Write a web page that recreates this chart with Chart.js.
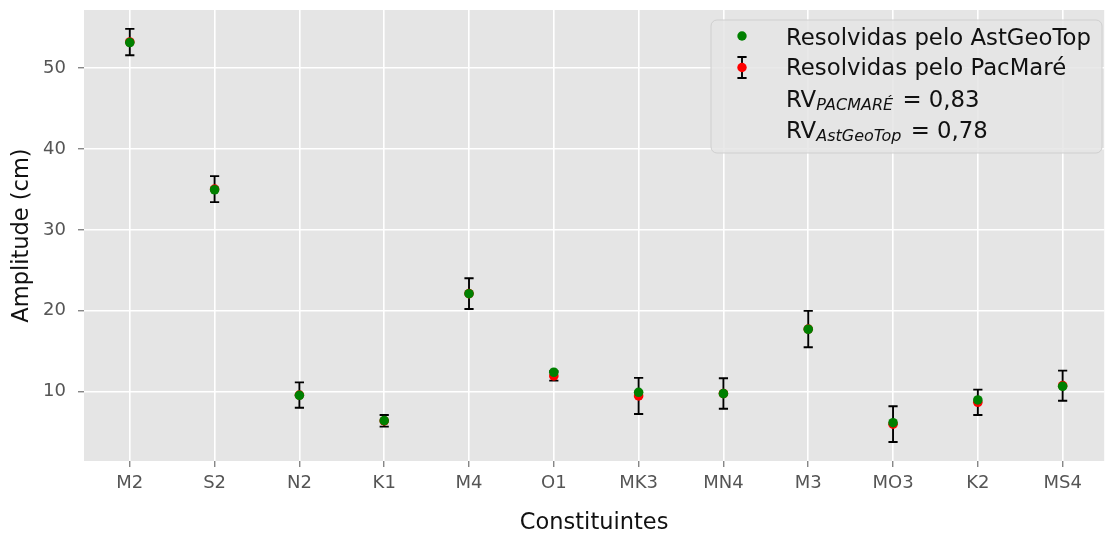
<!DOCTYPE html>
<html>
<head>
<meta charset="utf-8">
<script src="https://cdn.jsdelivr.net/npm/chart.js@4.4.1/dist/chart.umd.min.js"></script>
<style>
  html, body { margin: 0; padding: 0; background: #fff; }
  #wrap { width: 1109px; height: 534px; position: relative; }
</style>
</head>
<body>
<div id="wrap"><canvas id="chart"></canvas></div>
<script>
// constituintes de maré e amplitudes (cm)
const constituintes = ['M2', 'S2', 'N2', 'K1', 'M4', 'O1', 'MK3', 'MN4', 'M3', 'MO3', 'K2', 'MS4'];
const astGeoTop = [53.17, 34.96, 9.53, 6.39, 22.10, 12.38, 9.90, 9.73, 17.70, 6.14, 8.95, 10.64];
const pacMare = [53.24, 35.04, 9.56, 6.37, 22.11, 11.92, 9.45, 9.75, 17.72, 5.96, 8.66, 10.72];
const pacMareErr = [1.63, 1.61, 1.57, 0.72, 1.90, 0.58, 2.23, 1.88, 2.25, 2.21, 1.57, 1.86];
const yTicks = [10, 20, 30, 40, 50];

const legendLabels = ['Resolvidas pelo AstGeoTop', 'Resolvidas pelo PacMaré'];
const rvLabels = [
    { sub: 'PACMARÉ', val: '0,83' },
    { sub: 'AstGeoTop', val: '0,78' }
];

const FONT = "'DejaVu Sans', Verdana, sans-serif";

// fundo cinza da área do gráfico (estilo ggplot)
const bgPlugin = {
    id: 'bg',
    beforeDraw(chart) {
        const { ctx, chartArea: a } = chart;
        ctx.save();
        ctx.fillStyle = '#e5e5e5';
        ctx.fillRect(a.left, a.top, a.right - a.left, a.bottom - a.top);
        ctx.restore();
    }
};

function drawErrBar(ctx, x, yTop, yBot, cap) {
    ctx.beginPath();
    ctx.moveTo(x, yTop); ctx.lineTo(x, yBot);
    ctx.moveTo(x - cap, yTop); ctx.lineTo(x + cap, yTop);
    ctx.moveTo(x - cap, yBot); ctx.lineTo(x + cap, yBot);
    ctx.stroke();
}

// barras de erro do PacMaré
const errorBars = {
    id: 'errorBars',
    beforeDatasetsDraw(chart) {
        const { ctx, scales: { x, y } } = chart;
        ctx.save();
        ctx.strokeStyle = '#000';
        ctx.lineWidth = 1.9;
        pacMare.forEach((v, i) => {
            const px = x.getPixelForValue(i);
            drawErrBar(ctx, px, y.getPixelForValue(v + pacMareErr[i]), y.getPixelForValue(v - pacMareErr[i]), 4.6);
        });
        ctx.restore();
    }
};

// legenda desenhada à mão (subscritos em itálico)
const customLegend = {
    id: 'customLegend',
    afterDraw(chart) {
        const ctx = chart.ctx;
        const bx = 711, by = 20, bw = 391, bh = 133, r = 6;
        ctx.save();
        ctx.beginPath();
        ctx.roundRect(bx, by, bw, bh, r);
        ctx.fillStyle = 'rgba(229,229,229,0.85)';
        ctx.fill();
        ctx.strokeStyle = '#cfcfcf';
        ctx.lineWidth = 1;
        ctx.stroke();

        const mx = 742, tx = 786;
        // marcador verde
        ctx.fillStyle = 'green';
        ctx.beginPath(); ctx.arc(mx, 36, 4.7, 0, Math.PI * 2); ctx.fill();
        // barra de erro + ponto vermelho
        ctx.strokeStyle = '#000';
        ctx.lineWidth = 1.9;
        drawErrBar(ctx, mx, 57, 78, 4.6);
        ctx.fillStyle = 'red';
        ctx.beginPath(); ctx.arc(mx, 67.5, 4.7, 0, Math.PI * 2); ctx.fill();

        ctx.fillStyle = '#111';
        ctx.textBaseline = 'alphabetic';
        ctx.textAlign = 'left';
        ctx.font = '22.8px ' + FONT;
        ctx.fillText(legendLabels[0], tx, 44.5);
        ctx.fillText(legendLabels[1], tx, 75);

        const bases = [106.5, 137.5];
        rvLabels.forEach((item, k) => {
            let xx = tx;
            ctx.font = '22.8px ' + FONT;
            ctx.fillText('RV', xx, bases[k]);
            xx += ctx.measureText('RV').width;
            ctx.font = 'italic 16px ' + FONT;
            ctx.fillText(item.sub, xx, bases[k] + 3.5);
            xx += ctx.measureText(item.sub).width;
            ctx.font = '22.8px ' + FONT;
            ctx.fillText(' = ' + item.val, xx + 2, bases[k]);
        });
        ctx.restore();
    }
};

const ctx = document.getElementById('chart').getContext('2d');

new Chart(ctx, {
    type: 'scatter',
    data: {
        datasets: [
            {
                label: legendLabels[0],
                data: astGeoTop.map((v, i) => ({ x: i, y: v })),
                backgroundColor: 'green',
                borderColor: 'green',
                borderWidth: 0,
                pointRadius: 4.8
            },
            {
                label: legendLabels[1],
                data: pacMare.map((v, i) => ({ x: i, y: v })),
                backgroundColor: 'red',
                borderColor: 'red',
                borderWidth: 0,
                pointRadius: 4.8
            }
        ]
    },
    options: {
        responsive: true,
        maintainAspectRatio: false,
        animation: false,
        layout: { padding: { top: 10, left: 0, right: 0, bottom: 0 } },
        plugins: {
            legend: { display: false },
            tooltip: { enabled: false }
        },
        scales: {
            x: {
                type: 'linear',
                min: -0.54,
                max: 11.49,
                afterBuildTicks: s => { s.ticks = constituintes.map((_, i) => ({ value: i })); },
                afterFit: s => { s.height = 73; s.paddingLeft = 0; s.paddingRight = 0; },
                ticks: {
                    callback: v => constituintes[v] ?? '',
                    color: '#555',
                    font: { family: FONT, size: 18 },
                    padding: 6,
                    maxRotation: 0,
                    autoSkip: false
                },
                grid: { color: '#fff', lineWidth: 1.6, tickColor: '#555', tickLength: 6, tickWidth: 1 },
                border: { display: false },
                title: {
                    display: true,
                    text: 'Constituintes',
                    color: '#111',
                    font: { family: FONT, size: 22.5, lineHeight: 1 },
                    padding: { top: 0, bottom: 0 }
                }
            },
            y: {
                type: 'linear',
                min: 1.4,
                max: 57.2,
                afterBuildTicks: s => { s.ticks = yTicks.map(v => ({ value: v })); },
                afterFit: s => { s.width = 84; s.paddingTop = 0; s.paddingBottom = 0; },
                ticks: {
                    color: '#555',
                    font: { family: FONT, size: 18 },
                    padding: 12
                },
                grid: { color: '#fff', lineWidth: 1.6, tickColor: '#555', tickLength: 6, tickWidth: 1 },
                border: { display: false },
                title: {
                    display: true,
                    text: 'Amplitude (cm)',
                    color: '#111',
                    font: { family: FONT, size: 22.5, lineHeight: 1 },
                    padding: { top: 11, bottom: 0 }
                }
            }
        }
    },
    plugins: [bgPlugin, errorBars, customLegend]
});
</script>
</body>
</html>
